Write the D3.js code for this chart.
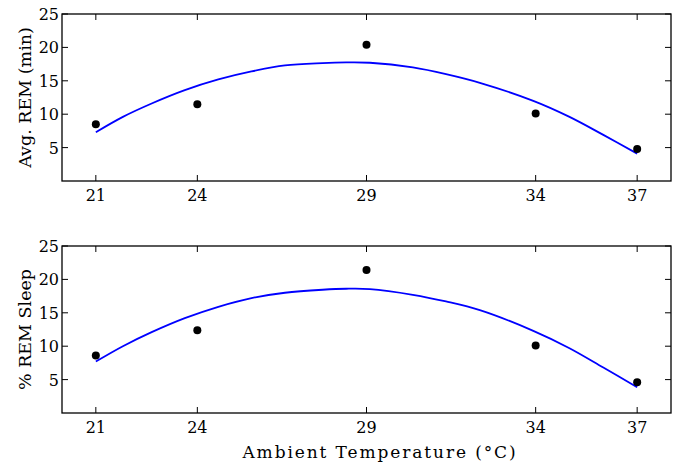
<!DOCTYPE html>
<html>
<head>
<meta charset="utf-8">
<script src="https://cdn.jsdelivr.net/npm/d3@7"></script>
<style>
  body { margin: 0; background: #fff; }
</style>
</head>
<body>
<div id="chart"></div>
<script>
// measured values
const temps = [21, 24, 29, 34, 37];
const avgRem = [8.5, 11.5, 20.4, 10.1, 4.8];
const pctRem = [8.6, 12.4, 21.4, 10.1, 4.6];

// fitted curve
const fitTemps = [21, 21.8, 22.65, 23.63, 24.62, 25.6, 26.59, 27.7, 28.4, 29.1, 30.37, 31.35, 32.35, 33.93, 35, 36, 37];
const fitAvg = [7.3, 9.6, 11.6, 13.6, 15.2, 16.4, 17.3, 17.65, 17.75, 17.7, 17.0, 16.0, 14.7, 12.0, 9.6, 6.9, 4.1];
const fitPct = [7.7, 10.0, 12.1, 14.2, 15.9, 17.2, 18.0, 18.45, 18.6, 18.55, 17.7, 16.7, 15.4, 12.3, 9.7, 6.8, 3.85];

const yTicks = [5, 10, 15, 20, 25];

const W = 681, H = 465;
const serif = 'DejaVu Serif';
const svg = d3.select('#chart').append('svg')
    .attr('width', W)
    .attr('height', H)
    .style('font-family', serif);

const x = d3.scaleLinear().domain([20, 38]).range([62, 671]);

const panels = [
    { top: 14, label: 'Avg. REM (min)', pts: avgRem, fit: fitAvg },
    { top: 246, label: '% REM Sleep', pts: pctRem, fit: fitPct },
];
const ph = 167;

panels.forEach(p => {
    const y = d3.scaleLinear().domain([0, 25]).range([p.top + ph, p.top]);
    const g = svg.append('g');

    // ticks inside the box, on all four sides
    const tk = 6;
    g.selectAll('.xt').data(temps).enter().append('path')
        .attr('d', d => `M${x(d)},${p.top + ph}v${-tk}M${x(d)},${p.top}v${tk}`)
        .attr('stroke', '#000').attr('stroke-width', 1);
    g.selectAll('.yt').data(yTicks).enter().append('path')
        .attr('d', d => `M${x(20)},${y(d)}h${tk}M${x(38)},${y(d)}h${-tk}`)
        .attr('stroke', '#000').attr('stroke-width', 1);

    g.selectAll('.xl').data(temps).enter().append('text')
        .attr('x', d => x(d))
        .attr('y', p.top + ph + 20)
        .attr('text-anchor', 'middle')
        .style('font-size', '16px')
        .text(d => d);
    g.selectAll('.yl').data(yTicks).enter().append('text')
        .attr('x', 59)
        .attr('y', d => y(d) + 6)
        .attr('text-anchor', 'end')
        .style('font-size', '16px')
        .text(d => d);

    g.append('text')
        .attr('transform', `translate(31,${p.top + ph / 2}) rotate(-90)`)
        .attr('text-anchor', 'middle')
        .style('font-size', '17.5px')
        .text(p.label);

    const line = d3.line()
        .x((d, i) => x(fitTemps[i]))
        .y(d => y(d))
        .curve(d3.curveCatmullRom.alpha(0.5));
    g.append('path')
        .datum(p.fit)
        .attr('d', line)
        .attr('fill', 'none')
        .attr('stroke', '#0000ff')
        .attr('stroke-width', 1.8);

    g.selectAll('.pt').data(p.pts).enter().append('circle')
        .attr('cx', (d, i) => x(temps[i]))
        .attr('cy', d => y(d))
        .attr('r', 4)
        .attr('fill', '#000');

    g.append('rect')
        .attr('x', x(20)).attr('y', p.top)
        .attr('width', x(38) - x(20)).attr('height', ph)
        .attr('fill', 'none')
        .attr('stroke', '#000')
        .attr('stroke-width', 1.3);
});

svg.append('text')
    .attr('x', 380)
    .attr('y', 458)
    .attr('text-anchor', 'middle')
    .style('font-size', '17px')
    .style('letter-spacing', '1.9px')
    .text('Ambient Temperature (°C)');
</script>
</body>
</html>
